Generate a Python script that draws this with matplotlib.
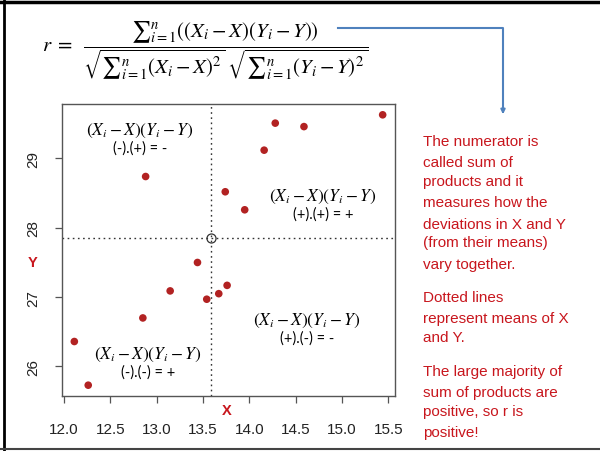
import numpy as np
import matplotlib
matplotlib.use("Agg")
import matplotlib.pyplot as plt
from matplotlib.lines import Line2D

# ---------------- data ----------------
x_vals = [12.11, 12.26, 12.85, 12.88, 13.145, 13.44, 13.54, 13.67, 13.74, 13.76,
          13.95, 14.16, 14.28, 14.59, 15.44]
y_vals = [26.36, 25.73, 26.70, 28.74, 27.09, 27.50, 26.97, 27.05, 28.52, 27.17,
          28.26, 29.12, 29.51, 29.46, 29.63]
x_ticks = [12.0, 12.5, 13.0, 13.5, 14.0, 14.5, 15.0, 15.5]
y_ticks = [26, 27, 28, 29]
quad_signs = ["(-).(+) = -", "(+).(+) = +", "(+).(-) = -", "(-).(-) = +"]
note_lines = [
    ["The numerator is", "called sum of", "products and it", "measures how the",
     "deviations in X and Y", "(from their means)", "vary together."],
    ["Dotted lines", "represent means of X", "and Y."],
    ["The large majority of", "sum of products are", "positive, so r is", "positive!"],
]

RED = "#c8161d"
PT = "#b22222"
plt.rcParams["mathtext.fontset"] = "stix"
plt.rcParams["font.family"] = ["Liberation Sans", "DejaVu Sans"]

W, H = 600, 452
fig = plt.figure(figsize=(W / 100, H / 100), dpi=100)

# ---------------- scatter axes ----------------
L, R_, T, B = 62, 395, 105, 397
ax = fig.add_axes([L / W, 1 - B / H, (R_ - L) / W, (B - T) / H])
ax.scatter(x_vals, y_vals, s=30, color=PT, edgecolors="none", zorder=3)
mx, my = np.mean(x_vals), np.mean(y_vals)
ax.axvline(mx, color="#333333", ls=(0, (1.2, 2.5)), lw=1.0)
ax.axhline(my, color="#333333", ls=(0, (1.2, 2.5)), lw=1.0)
ax.plot([mx], [my], marker="o", ms=6.5, mfc="none", mec="#333333", mew=0.9, zorder=4)

xr = max(x_vals) - min(x_vals)
yr = max(y_vals) - min(y_vals)
ax.set_xlim(min(x_vals) - 0.04 * xr, max(x_vals) + 0.04 * xr)
ax.set_ylim(min(y_vals) - 0.04 * yr, max(y_vals) + 0.04 * yr)
ax.set_xticks(x_ticks)
ax.set_xticklabels([f"{v:.1f}" for v in x_ticks])
ax.set_yticks(y_ticks)
ax.set_yticklabels([str(v) for v in y_ticks])
for s in ax.spines.values():
    s.set_color("#555555")
    s.set_linewidth(1.0)
ax.tick_params(axis="x", direction="out", length=5, width=0.9, color="#555555",
               labelsize=11, labelcolor="#222222", pad=14)
ax.tick_params(axis="y", direction="out", length=5, width=0.9, color="#555555",
               labelsize=11, labelcolor="#222222", pad=11, labelrotation=90)
for lab in ax.get_yticklabels():
    lab.set_va("center")

# ---------------- overlay in pixel coordinates ----------------
ov = fig.add_axes([0, 0, 1, 1], zorder=10)
ov.set_xlim(0, W)
ov.set_ylim(H, 0)
ov.axis("off")
ov.patch.set_alpha(0)

# frame
ov.add_line(Line2D([0, W], [2.5, 2.5], color="black", lw=2.5))
ov.add_line(Line2D([4, 4], [0, H], color="black", lw=2.0))
ov.add_line(Line2D([0, W], [449.5, 449.5], color="#444444", lw=1.5))

# formula (unicode sum sign keeps the limits at the side, as in the reference)
S = "\u2211"
formula = (r"$r\;=\;\;\dfrac{" + S + r"_{i=1}^{n}((X_i-X)(Y_i-Y))}"
           r"{\sqrt{" + S + r"_{i=1}^{n}(X_i-X)^2}\;\sqrt{" + S + r"_{i=1}^{n}(Y_i-Y)^2}}$")
ov.text(42, 50, formula, fontsize=15, ha="left", va="center", color="black")

# blue connector
ov.add_line(Line2D([338, 503, 503], [29, 29, 110], color="#4f81bd", lw=1.5))
ov.annotate("", xy=(503, 118), xytext=(503, 108),
            arrowprops=dict(arrowstyle="-|>", color="#4f81bd", lw=1.5,
                            mutation_scale=6))

# quadrant annotations
quad_pos = [(140, 131), (323, 197), (307, 321), (148, 355)]
for (qx, qy), sign in zip(quad_pos, quad_signs):
    ov.text(qx, qy, r"$(X_i-X)(Y_i-Y)$", fontsize=12.5, ha="center", va="center")
    ov.text(qx, qy + 18, sign, fontsize=10.5, ha="center", va="center",
            family=["Lato", "DejaVu Sans"])

# axis labels
ov.text(227, 411.5, "X", color=RED, fontsize=10.5, fontweight="bold",
        ha="center", va="center")
ov.text(33, 263, "Y", color=RED, fontsize=10.5, fontweight="bold",
        ha="center", va="center")

# right notes
line_y = [[141.7, 162.7, 181.7, 203, 225, 242.7, 265],
          [298, 319, 338],
          [371.7, 393, 411.7, 433]]
for para, ys in zip(note_lines, line_y):
    for txt, yy in zip(para, ys):
        ov.text(423, yy, txt, color=RED, fontsize=11, ha="left", va="center")

fig.savefig("out.png", dpi=100)
